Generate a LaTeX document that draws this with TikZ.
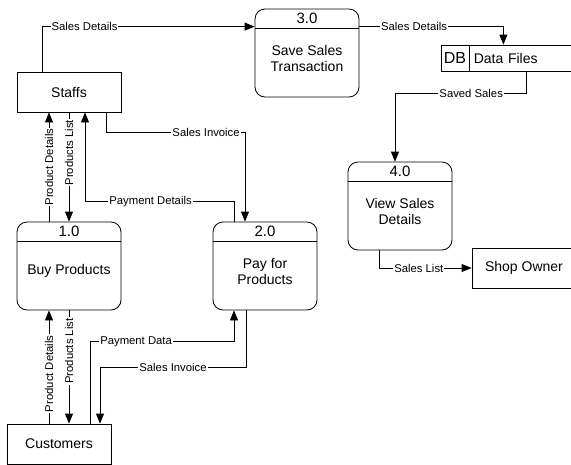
\documentclass[tikz,border=0pt]{standalone}
\usepackage{fontspec}
\setmainfont{Liberation Sans}
\usetikzlibrary{arrows.meta,calc,positioning}

\tikzset{
  process/.style={draw, line width=0.8pt, rounded corners=10pt, minimum width=104pt, minimum height=88pt,
    path picture={\draw[line width=0.8pt] ([yshift=-19pt]path picture bounding box.north west) -- ([yshift=-19pt]path picture bounding box.north east);}},
  procnum/.style={inner sep=0pt, font=\fontsize{15}{17}\selectfont},
  proctext/.style={inner sep=0pt, align=center, font=\fontsize{14}{16}\selectfont},
  entity/.style={draw, line width=0.8pt, minimum width=104pt, minimum height=40pt, inner sep=0pt, font=\fontsize{14}{16}\selectfont},
  storeid/.style={draw, line width=0.8pt, minimum width=28pt, minimum height=26pt, inner sep=0pt, font=\fontsize{16}{18}\selectfont},
  storebody/.style={draw, line width=0.8pt, minimum height=26pt, text width=110pt, inner sep=4pt, align=left, font=\fontsize{14}{16}\selectfont},
  flow/.style={line width=0.8pt, -{Triangle[length=10pt,width=8pt]}},
  lbl/.style={fill=white, inner sep=1pt, font=\fontsize{11.3}{13}\selectfont}
}

\begin{document}
\begin{tikzpicture}[x=1pt, y=-1pt]
      \useasboundingbox (0,0) rectangle (571,464);
      \clip (0,0) rectangle (571,464);
      % external entities
      \node[entity] (staffs) at (69,92) {Staffs};
      \node[entity] (cust) at (59,444) {Customers};
      \node[entity] (shop) at (524,268) {Shop Owner};
      % data store
      \node[storeid] (dbid) at (455,58) {DB};
      \node[storebody, anchor=west] (db) at (dbid.east) {Data Files};
      % processes
      \node[process] (p1) at (69,266) {};
      \node[procnum] (p1n) at ([yshift=-9.5pt]p1.north) {1.0};
      \node[proctext] (p1t) at ([yshift=-5pt]p1.center) {Buy Products};
      \node[process] (p2) at (265,266) {};
      \node[procnum] (p2n) at ([yshift=-9.5pt]p2.north) {2.0};
      \node[proctext] (p2t) at ([yshift=-5pt]p2.center) {Pay for\\Products};
      \node[process] (p3) at (307,53) {};
      \node[procnum] (p3n) at ([yshift=-9.5pt]p3.north) {3.0};
      \node[proctext] (p3t) at ([yshift=-5pt]p3.center) {Save Sales\\Transaction};
      \node[process] (p4) at (400,206) {};
      \node[procnum] (p4n) at ([yshift=-9.5pt]p4.north) {4.0};
      \node[proctext] (p4t) at ([yshift=-5pt]p4.center) {View Sales\\Details};
      % data flows
      \draw[flow] ([xshift=-27pt]staffs.north) |- node[lbl, pos=0.6]{Sales Details} ([yshift=-18pt]p3.north west);
      \draw[flow] ([yshift=-18pt]p3.north east) -| node[lbl, pos=0.19]{Sales Details} ([xshift=34pt]db.north west);
      \draw[flow] ([xshift=57pt]db.south west) -- ++(0,22) -| node[lbl, pos=0.21]{Saved Sales} ([xshift=-5pt]p4.north);
      \draw[flow] ([xshift=-21pt]p4.south) |- node[lbl, pos=0.715]{Sales List} (shop.west);
      \draw[flow] ([xshift=37pt]staffs.south) -- ++(0,20) -| node[lbl, pos=0.36]{Sales Invoice} ([xshift=-20pt]p2.north);
      \draw[flow] ([xshift=-31pt]p2.north) -- ++(0,-20) -| node[lbl, pos=0.28]{Payment Details} ([xshift=16pt]staffs.south);
      \draw[flow] ([xshift=-20pt]p1.north) -- node[lbl, rotate=90, pos=0.5]{Product Details} ([xshift=-20pt]staffs.south);
      \draw[flow] (staffs.south) -- node[lbl, rotate=90, pos=0.37]{Products List} (p1.north);
      \draw[flow] ([xshift=-10pt]cust.north) -- node[lbl, rotate=90, pos=0.44]{Product Details} ([xshift=-20pt]p1.south);
      \draw[flow] (p1.south) -- node[lbl, rotate=90, pos=0.36]{Products List} ([xshift=10pt]cust.north);
      \draw[flow] ([xshift=31pt]cust.north) -- ++(0,-82) -| node[lbl, pos=0.16]{Payment Data} ([xshift=-31pt]p2.south);
      \draw[flow] ([xshift=-19pt]p2.south) -- ++(0,57) -| node[lbl, pos=0.25]{Sales Invoice} ([xshift=41pt]cust.north);
\end{tikzpicture}
\end{document}
